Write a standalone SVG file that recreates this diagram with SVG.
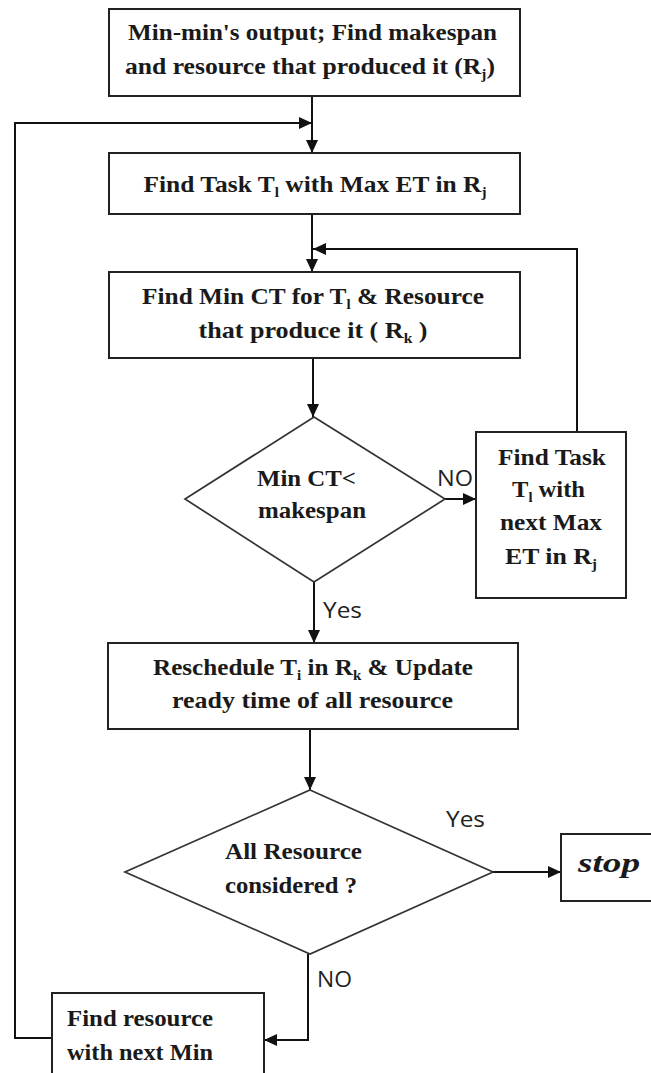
<svg xmlns="http://www.w3.org/2000/svg" width="651" height="1073" viewBox="0 0 651 1073">
<defs>
<style>
.box{fill:#fff;stroke:#222;stroke-width:2}
.dia{fill:#fff;stroke:#333;stroke-width:1.7}
.ln{fill:none;stroke:#111;stroke-width:2}
.m{text-anchor:middle}
.s{font-size:14px}
</style>
<marker id="ah" markerWidth="13" markerHeight="12" refX="13" refY="6" orient="auto" markerUnits="userSpaceOnUse">
<path d="M0,0 L13,6 L0,12 Z" fill="#111"/>
</marker>
</defs>
<rect width="651" height="1073" fill="#fff"/>

<g id="connectors">
<path class="ln" d="M312,96 V153" marker-end="url(#ah)"/>
<path class="ln" d="M52,1038 H15 V123 H312" marker-end="url(#ah)"/>
<path class="ln" d="M312,214 V272" marker-end="url(#ah)"/>
<path class="ln" d="M577,432 V249 H313" marker-end="url(#ah)"/>
<path class="ln" d="M313,358 V417" marker-end="url(#ah)"/>
<path class="ln" d="M445,499 H476" marker-end="url(#ah)"/>
<path class="ln" d="M314,582 V643" marker-end="url(#ah)"/>
<path class="ln" d="M310,729 V790" marker-end="url(#ah)"/>
<path class="ln" d="M493,872 H561" marker-end="url(#ah)"/>
<path class="ln" d="M308,954 V1040 H264" marker-end="url(#ah)"/>
</g>

<g font-family="'Liberation Serif', 'Times New Roman', serif" font-weight="700" font-size="23.5" fill="#1a1a1a">
<g id="n1">
<rect class="box" x="109" y="9" width="411" height="87"/>
<text class="m" x="312.5" y="40" textLength="369" lengthAdjust="spacingAndGlyphs">Min-min's output; Find makespan</text>
<text class="m" x="310" y="74" textLength="370" lengthAdjust="spacingAndGlyphs">and resource that produced it (R<tspan class="s" dy="5">j</tspan><tspan dy="-5">)</tspan></text>
</g>

<g id="n2">
<rect class="box" x="109" y="153" width="411" height="61"/>
<text class="m" x="315" y="192" textLength="343" lengthAdjust="spacingAndGlyphs">Find Task T<tspan class="s" dy="5">l</tspan><tspan dy="-5"> with Max ET in R</tspan><tspan class="s" dy="5">j</tspan></text>
</g>

<g id="n3">
<rect class="box" x="109" y="272" width="411" height="86"/>
<text class="m" x="313" y="304" textLength="342" lengthAdjust="spacingAndGlyphs">Find Min CT for T<tspan class="s" dy="5">l</tspan><tspan dy="-5"> &amp; Resource</tspan></text>
<text class="m" x="313" y="338" textLength="229" lengthAdjust="spacingAndGlyphs">that produce it ( R<tspan class="s" dy="5">k</tspan><tspan dy="-5"> )</tspan></text>
</g>

<g id="d1">
<polygon class="dia" points="314,417 445,499 314,582 185,499"/>
<text class="m" x="306.5" y="486" textLength="99" lengthAdjust="spacingAndGlyphs">Min CT&lt;</text>
<text class="m" x="312" y="518" textLength="108" lengthAdjust="spacingAndGlyphs">makespan</text>
</g>

<g id="n4">
<rect class="box" x="476" y="432" width="150" height="166"/>
<text class="m" x="552" y="465" textLength="108" lengthAdjust="spacingAndGlyphs">Find Task</text>
<text class="m" x="548.5" y="497" textLength="73" lengthAdjust="spacingAndGlyphs">T<tspan class="s" dy="5">l</tspan><tspan dy="-5"> with</tspan></text>
<text class="m" x="551" y="530" textLength="102" lengthAdjust="spacingAndGlyphs">next Max</text>
<text class="m" x="551" y="564" textLength="92" lengthAdjust="spacingAndGlyphs">ET in R<tspan class="s" dy="5">j</tspan></text>
</g>

<g id="n5">
<rect class="box" x="108" y="643" width="410" height="86"/>
<text class="m" x="313" y="675" textLength="320" lengthAdjust="spacingAndGlyphs">Reschedule T<tspan class="s" dy="5">i</tspan><tspan dy="-5"> in R</tspan><tspan class="s" dy="5">k</tspan><tspan dy="-5"> &amp; Update</tspan></text>
<text class="m" x="312.5" y="708" textLength="281" lengthAdjust="spacingAndGlyphs">ready time of all resource</text>
</g>

<g id="d2">
<polygon class="dia" points="310,790 493,872 310,954 125,872"/>
<text x="225" y="859" textLength="137" lengthAdjust="spacingAndGlyphs">All Resource</text>
<text x="225" y="893" textLength="132" lengthAdjust="spacingAndGlyphs">considered ?</text>
</g>

<g id="stop">
<rect class="box" x="561" y="834" width="100" height="67"/>
<text x="578" y="872" font-style="italic" font-size="28" textLength="62" lengthAdjust="spacingAndGlyphs">stop</text>
</g>

<g id="n6">
<rect class="box" x="52" y="993" width="212" height="100"/>
<text x="67" y="1026" textLength="146" lengthAdjust="spacingAndGlyphs">Find resource</text>
<text x="67" y="1060" textLength="146" lengthAdjust="spacingAndGlyphs">with next Min</text>
</g>
</g>

<g id="labels" font-family="'Open Sans', sans-serif" font-size="21" fill="#222">
<text x="437" y="486" textLength="36" lengthAdjust="spacingAndGlyphs">NO</text>
<text x="323" y="618" textLength="39" lengthAdjust="spacingAndGlyphs">Yes</text>
<text x="446" y="827" textLength="39" lengthAdjust="spacingAndGlyphs">Yes</text>
<text x="317" y="987" textLength="35" lengthAdjust="spacingAndGlyphs">NO</text>
</g>
</svg>
